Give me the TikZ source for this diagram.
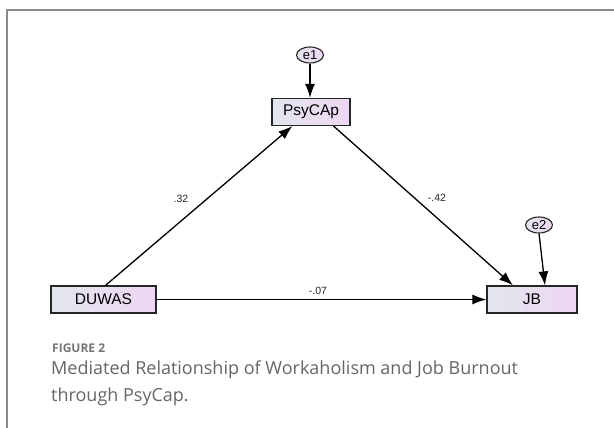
\documentclass[tikz,border=0pt]{standalone}
\usepackage{fontspec}
\setmainfont{Liberation Sans}
\newfontfamily\capfont{Open Sans}
\usetikzlibrary{arrows.meta,shapes.geometric,calc}
\definecolor{boxleft}{HTML}{E2E6EE}
\definecolor{boxright}{HTML}{EED6F2}
\definecolor{frameg}{HTML}{8A8A8A}
\definecolor{capg}{HTML}{666666}
\tikzset{
  varbox/.style={draw=black!85, line width=1.2pt, left color=boxleft, right color=boxright,
    minimum height=27pt, inner sep=0pt, font=\fontsize{15.5}{17}\selectfont},
  errnode/.style={ellipse, draw=black!85, line width=1.1pt, left color=boxleft, right color=boxright,
    minimum width=27pt, minimum height=16pt, inner sep=0pt, font=\fontsize{13}{14}\selectfont},
  path/.style={draw=black, line width=1.3pt, -{Latex[length=14pt,width=10pt]}},
  coef/.style={font=\fontsize{10.5}{12}\selectfont, text=black!85}
}
\begin{document}
\begin{tikzpicture}[x=1pt,y=-1pt]
\useasboundingbox (0,0) rectangle (614,428);
\draw[frameg, line width=1.3pt] (6,10) -- (614,10);
\draw[frameg, line width=1.3pt] (7,10) -- (7,428);

\node[varbox, minimum width=105pt] (duwas) at (103.5,299.5) {DUWAS};
\node[varbox, minimum width=78pt] (psy) at (311,112) {PsyCAp};
\node[varbox, minimum width=90pt] (jb) at (532,299.5) {JB};
\node[errnode] (e1) at (310,55) {e1};
\node[errnode] (e2) at (539,225) {e2};

\draw[path] (e1) -- (e1 |- psy.north);
\draw[path] (e2.south) -- ([xshift=13pt]jb.north);
\draw[path] ([xshift=2pt]duwas.north) -- ([xshift=21pt]psy.south west);
\draw[path] ([xshift=-17pt]psy.south east) -- ([xshift=-19pt]jb.north);
\draw[path] (duwas.east) -- (jb.west);

\node[coef] (c1) at (181,199) {.32};
\node[coef] (c2) at (437,198) {-.42};
\node[coef] (c3) at (318,291) {-.07};

\node[anchor=west, text=capg!90, font=\capfont\bfseries\fontsize{12}{14}\selectfont, inner sep=0pt] (fig) at (52,348) {FIGURE 2};
\node[anchor=north west, text=capg, align=left, font=\capfont\fontsize{18}{26.5}\selectfont, inner sep=0pt] (cap) at (51,361)
  {Mediated Relationship of Workaholism and Job Burnout\\through PsyCap.};
\end{tikzpicture}
\end{document}
